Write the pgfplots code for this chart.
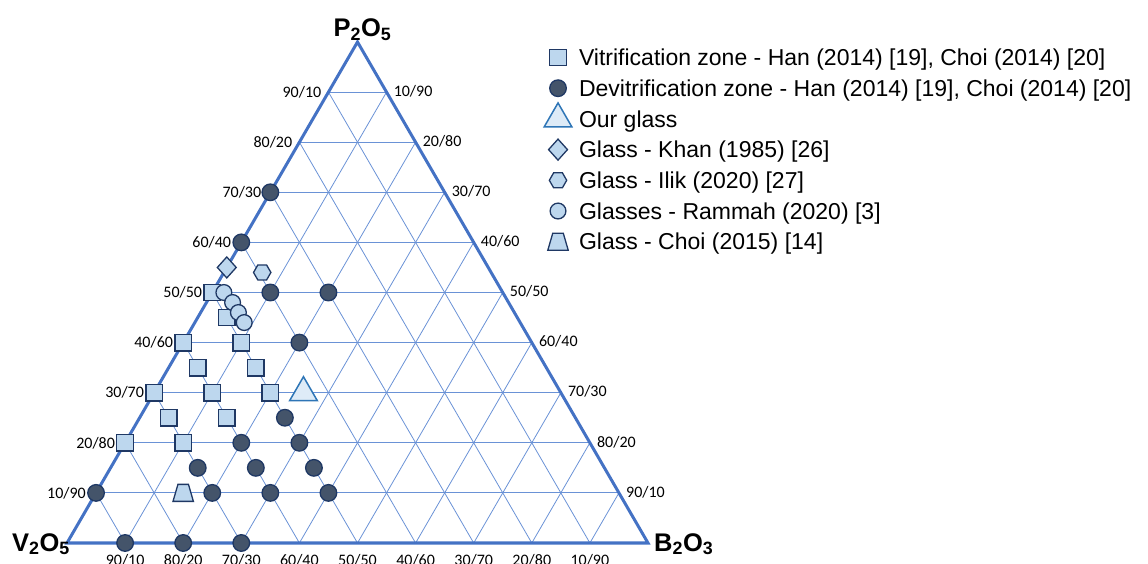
\documentclass[border=0pt]{standalone}
\usepackage{pgfplots}
\usepackage{pgfplotstable}
\pgfplotsset{compat=1.18}
\usepackage{fontspec}
\setmainfont{Liberation Sans}
\newfontfamily\tickfont{Carlito}
\definecolor{edge}{HTML}{4472C4}
\definecolor{gridc}{HTML}{6A92D6}
\definecolor{lightfill}{HTML}{BDD7EE}
\definecolor{darkfill}{HTML}{44546A}
\definecolor{navy}{HTML}{1F3864}
\definecolor{trifill}{HTML}{DEEBF7}
\definecolor{triedge}{HTML}{2E75B6}
\pgfplotsset{gl/.style={color=gridc, line width=0.8bp, forget plot}}

\pgfdeclareplotmark{hexagon*}{%
  \pgfpathmoveto{\pgfqpoint{\pgfplotmarksize}{0pt}}%
  \pgfpathlineto{\pgfqpoint{0.5\pgfplotmarksize}{0.866\pgfplotmarksize}}%
  \pgfpathlineto{\pgfqpoint{-0.5\pgfplotmarksize}{0.866\pgfplotmarksize}}%
  \pgfpathlineto{\pgfqpoint{-\pgfplotmarksize}{0pt}}%
  \pgfpathlineto{\pgfqpoint{-0.5\pgfplotmarksize}{-0.866\pgfplotmarksize}}%
  \pgfpathlineto{\pgfqpoint{0.5\pgfplotmarksize}{-0.866\pgfplotmarksize}}%
  \pgfpathclose
  \pgfusepathqfillstroke}
\pgfdeclareplotmark{trapez*}{%
  \pgfpathmoveto{\pgfqpoint{-0.62\pgfplotmarksize}{\pgfplotmarksize}}%
  \pgfpathlineto{\pgfqpoint{0.62\pgfplotmarksize}{\pgfplotmarksize}}%
  \pgfpathlineto{\pgfqpoint{1.2\pgfplotmarksize}{-\pgfplotmarksize}}%
  \pgfpathlineto{\pgfqpoint{-1.2\pgfplotmarksize}{-\pgfplotmarksize}}%
  \pgfpathclose
  \pgfusepathqfillstroke}
\pgfdeclareplotmark{rhomb*}{%
  \pgfpathmoveto{\pgfqpoint{0pt}{\pgfplotmarksize}}%
  \pgfpathlineto{\pgfqpoint{0.9\pgfplotmarksize}{0pt}}%
  \pgfpathlineto{\pgfqpoint{0pt}{-\pgfplotmarksize}}%
  \pgfpathlineto{\pgfqpoint{-0.9\pgfplotmarksize}{0pt}}%
  \pgfpathclose
  \pgfusepathqfillstroke}

% ternary compositions: P = P2O5 %, B = B2O3 % (V2O5 = 100 - P - B)
\pgfplotstableread{
P B
50 0
45 5
40 0
40 10
35 5
35 15
30 0
30 10
30 20
25 5
25 15
20 0
20 10
}\vitri
\pgfplotstableread{
P B
70 0
60 0
50 10
50 20
40 20
25 25
20 20
20 30
15 15
15 25
15 35
10 0
10 20
10 30
10 40
0 10
0 20
0 30
}\devitri
\pgfplotstableread{
P B
30 25.7
}\ours
\pgfplotstableread{
P B
55 0
}\khan
\pgfplotstableread{
P B
54 6.6
}\ilik
\pgfplotstableread{
P B
50 2
48 4.5
46 6.5
44 8.5
}\rammah
\pgfplotstableread{
P B
10 15
}\choi

\begin{document}
\begin{tikzpicture}[
  tl/.style={font=\tickfont\fontsize{16bp}{19bp}\selectfont, inner sep=0pt, text=black},
  vl/.style={font=\bfseries\fontsize{25.5bp}{29bp}\selectfont, inner sep=0pt},
]
\path[use as bounding box] (0,0) rectangle (1148bp,564bp);
\begin{axis}[
  at={(67bp,21bp)}, anchor=south west,
  scale only axis, width=581bp, height=501bp,
  xmin=0, xmax=100, ymin=0, ymax=100,
  hide axis, clip=false,
  legend style={
    at={(axis description cs:0.8193,0.9856)}, anchor=north west,
    draw=none, fill=none, inner sep=0pt, outer sep=0pt,
    font=\fontsize{23bp}{27bp}\selectfont,
    nodes={inner sep=0pt, text height=16.5bp, text depth=5bp},
    row sep=9.2bp, column sep=6bp,
  },
  legend cell align=left,
  legend image code/.code={\path[draw=none,fill=none] (-15bp,0bp) rectangle (15bp,1bp); \draw[#1,overlay] plot coordinates {(0bp,2.45bp)};},
]
% grid lines
\addplot[gl] coordinates {(5,10) (95,10)};
\addplot[gl] coordinates {(10,20) (90,20)};
\addplot[gl] coordinates {(15,30) (85,30)};
\addplot[gl] coordinates {(20,40) (80,40)};
\addplot[gl] coordinates {(25,50) (75,50)};
\addplot[gl] coordinates {(30,60) (70,60)};
\addplot[gl] coordinates {(35,70) (65,70)};
\addplot[gl] coordinates {(40,80) (60,80)};
\addplot[gl] coordinates {(45,90) (55,90)};
\addplot[gl] coordinates {(10,0) (55,90)};
\addplot[gl] coordinates {(20,0) (60,80)};
\addplot[gl] coordinates {(30,0) (65,70)};
\addplot[gl] coordinates {(40,0) (70,60)};
\addplot[gl] coordinates {(50,0) (75,50)};
\addplot[gl] coordinates {(60,0) (80,40)};
\addplot[gl] coordinates {(70,0) (85,30)};
\addplot[gl] coordinates {(80,0) (90,20)};
\addplot[gl] coordinates {(90,0) (95,10)};
\addplot[gl] coordinates {(10,0) (5,10)};
\addplot[gl] coordinates {(20,0) (10,20)};
\addplot[gl] coordinates {(30,0) (15,30)};
\addplot[gl] coordinates {(40,0) (20,40)};
\addplot[gl] coordinates {(50,0) (25,50)};
\addplot[gl] coordinates {(60,0) (30,60)};
\addplot[gl] coordinates {(70,0) (35,70)};
\addplot[gl] coordinates {(80,0) (40,80)};
\addplot[gl] coordinates {(90,0) (45,90)};
% triangle edges
\addplot[color=edge, line width=3bp, line join=miter, forget plot] coordinates {(0,0) (100,0) (50,100)} -- cycle;

% data
\addplot[only marks, mark=square*, mark size=8.3bp, mark options={solid, line width=1.3bp, draw=navy, fill=lightfill}]
  table[x expr=\thisrow{B}+0.5*\thisrow{P}, y=P] {\vitri};
\addlegendentry{Vitrification zone - Han (2014) [19], Choi (2014) [20]}
\addplot[only marks, mark=*, mark size=8.3bp, mark options={solid, line width=1.3bp, draw=navy, fill=darkfill}]
  table[x expr=\thisrow{B}+0.5*\thisrow{P}, y=P] {\devitri};
\addlegendentry{Devitrification zone - Han (2014) [19], Choi (2014) [20]}
\addplot[only marks, mark=triangle*, mark size=16bp, mark options={solid, line width=1.5bp, draw=triedge, fill=trifill}]
  table[x expr=\thisrow{B}+0.5*\thisrow{P}, y=P] {\ours};
\addlegendentry{Our glass}
\addplot[only marks, mark=rhomb*, mark size=10.5bp, mark options={solid, line width=1.3bp, draw=navy, fill=lightfill}]
  table[x expr=\thisrow{B}+0.5*\thisrow{P}, y=P] {\khan};
\addlegendentry{Glass - Khan (1985) [26]}
\addplot[only marks, mark=hexagon*, mark size=8.7bp, mark options={solid, line width=1.3bp, draw=navy, fill=lightfill}]
  table[x expr=\thisrow{B}+0.5*\thisrow{P}, y=P] {\ilik};
\addlegendentry{Glass - Ilik (2020) [27]}
\addplot[only marks, mark=*, mark size=7.9bp, mark options={solid, line width=1.3bp, draw=navy, fill=lightfill}]
  table[x expr=\thisrow{B}+0.5*\thisrow{P}, y=P] {\rammah};
\addlegendentry{Glasses - Rammah (2020) [3]}
\addplot[only marks, mark=trapez*, mark size=8.5bp, mark options={solid, line width=1.3bp, draw=navy, fill=lightfill}]
  table[x expr=\thisrow{B}+0.5*\thisrow{P}, y=P] {\choi};
\addlegendentry{Glass - Choi (2015) [14]}

% vertex labels
\node[vl, anchor=south, xshift=5bp, yshift=1bp] at (axis cs:50,100) {P\textsubscript{2}O\textsubscript{5}};
\node[vl, anchor=north east, xshift=3bp, yshift=10bp] at (axis cs:0,0) {V\textsubscript{2}O\textsubscript{5}};
\node[vl, anchor=north west, xshift=6bp, yshift=10bp] at (axis cs:100,0) {B\textsubscript{2}O\textsubscript{3}};

% left side labels
\node[tl, anchor=east, xshift=-7bp] at (axis cs:45,90) {90/10};
\node[tl, anchor=east, xshift=-7bp] at (axis cs:40,80) {80/20};
\node[tl, anchor=east, xshift=-9bp] at (axis cs:35,70) {70/30};
\node[tl, anchor=east, xshift=-10bp] at (axis cs:30,60) {60/40};
\node[tl, anchor=east, xshift=-10bp] at (axis cs:25,50) {50/50};
\node[tl, anchor=east, xshift=-10bp] at (axis cs:20,40) {40/60};
\node[tl, anchor=east, xshift=-10bp] at (axis cs:15,30) {30/70};
\node[tl, anchor=east, xshift=-10bp] at (axis cs:10,20) {20/80};
\node[tl, anchor=east, xshift=-10bp] at (axis cs:5,10) {10/90};
% right side labels
\node[tl, anchor=west, xshift=7bp, yshift=1bp] at (axis cs:55,90) {10/90};
\node[tl, anchor=west, xshift=7bp, yshift=1bp] at (axis cs:60,80) {20/80};
\node[tl, anchor=west, xshift=7bp, yshift=1bp] at (axis cs:65,70) {30/70};
\node[tl, anchor=west, xshift=7bp, yshift=1bp] at (axis cs:70,60) {40/60};
\node[tl, anchor=west, xshift=7bp, yshift=1bp] at (axis cs:75,50) {50/50};
\node[tl, anchor=west, xshift=7bp, yshift=1bp] at (axis cs:80,40) {60/40};
\node[tl, anchor=west, xshift=7bp, yshift=1bp] at (axis cs:85,30) {70/30};
\node[tl, anchor=west, xshift=7bp, yshift=1bp] at (axis cs:90,20) {80/20};
\node[tl, anchor=west, xshift=7bp, yshift=1bp] at (axis cs:95,10) {90/10};
% bottom labels
\node[tl, anchor=north, yshift=-11bp] at (axis cs:10,0) {90/10};
\node[tl, anchor=north, yshift=-11bp] at (axis cs:20,0) {80/20};
\node[tl, anchor=north, yshift=-11bp] at (axis cs:30,0) {70/30};
\node[tl, anchor=north, yshift=-11bp] at (axis cs:40,0) {60/40};
\node[tl, anchor=north, yshift=-11bp] at (axis cs:50,0) {50/50};
\node[tl, anchor=north, yshift=-11bp] at (axis cs:60,0) {40/60};
\node[tl, anchor=north, yshift=-11bp] at (axis cs:70,0) {30/70};
\node[tl, anchor=north, yshift=-11bp] at (axis cs:80,0) {20/80};
\node[tl, anchor=north, yshift=-11bp] at (axis cs:90,0) {10/90};
\end{axis}
\end{tikzpicture}
\end{document}
